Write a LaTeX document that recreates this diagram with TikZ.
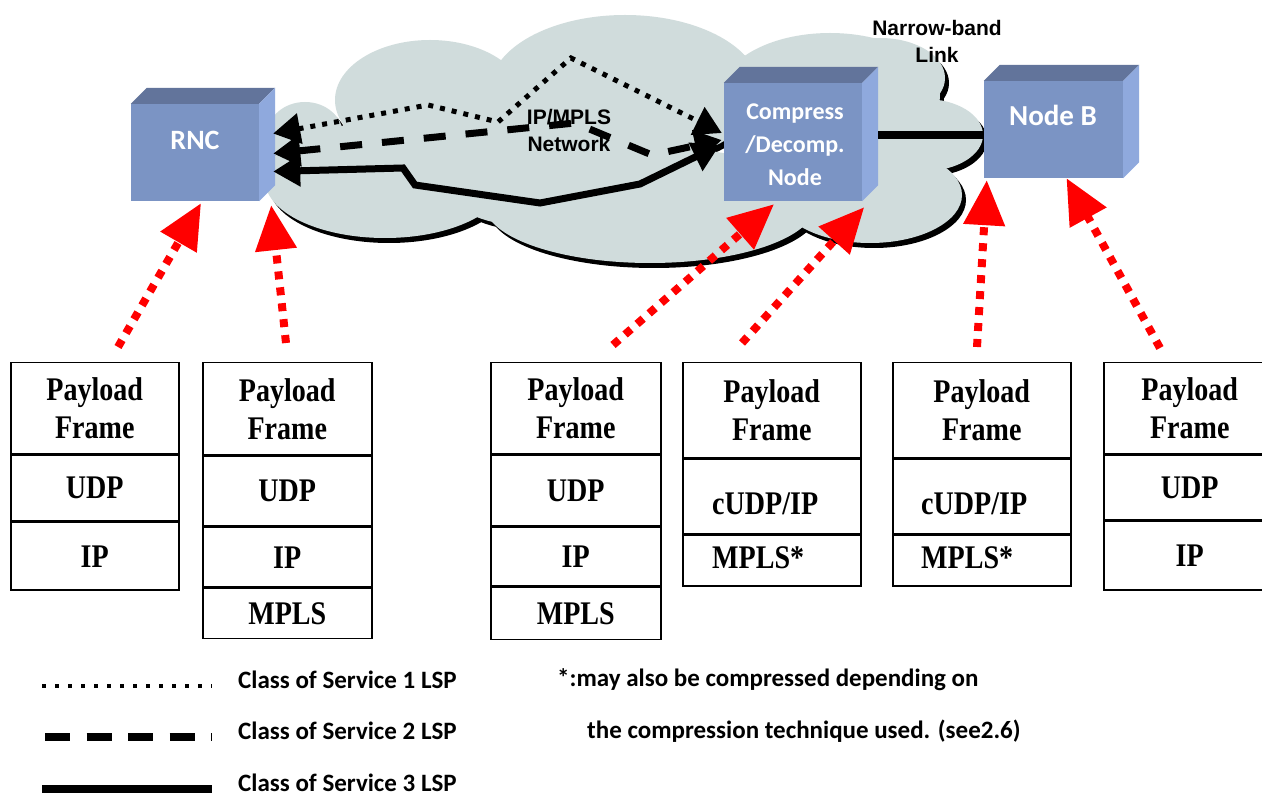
\documentclass[tikz,border=0pt]{standalone}
\usepackage{fontspec}
\usetikzlibrary{arrows.meta,calc}
\newfontfamily\serifb[FakeStretch=0.85]{Liberation Serif}
\newfontfamily\arialb{Liberation Sans}
\newfontfamily\comic{Carlito}
\definecolor{cloudc}{RGB}{208,220,220}
\definecolor{boxfront}{RGB}{123,148,196}
\definecolor{boxtop}{RGB}{98,116,155}
\definecolor{boxside}{RGB}{143,169,221}
\newcommand\cubefaces[1]{%
  \fill[boxtop] (#1.north west) -- ++(16,-16) -- ($(#1.north east)+(16,-16)$) -- (#1.north east) -- cycle;
  \fill[boxside] (#1.north east) -- ++(16,-16) -- ($(#1.south east)+(16,-16)$) -- (#1.south east) -- cycle;}
\begin{document}
\begin{tikzpicture}[x=1pt,y=-1pt,
  cube/.style={fill=boxfront, inner sep=0pt, text=white, font=\comic},
  cell/.style={draw, line width=1.5pt, minimum width=#1, inner sep=0pt, anchor=north west,
    font={\serifb\bfseries\fontsize{33}{38}\selectfont}, align=center},
  cell/.default=168pt,
  celltxt/.style={anchor=west, inner sep=0pt, font={\serifb\bfseries\fontsize{33}{38}\selectfont}},
  redarrow/.style={draw=red, line width=8pt, dash pattern=on 8pt off 8pt,
    -{Triangle[length=45pt,width=40pt]}},
  lsp/.style={line width=#1, {Triangle[length=27pt,width=30pt]}-{Triangle[length=27pt,width=30pt]}},
  cosone/.style={line width=5pt, dash pattern=on 5pt off 7pt},
  costwo/.style={line width=7pt, dash pattern=on 22pt off 20pt},
  costhree/.style={line width=7pt, miter limit=10},
  legtxt/.style={anchor=west, inner sep=0pt, font={\comic\bfseries\fontsize{25}{28}\selectfont}},
  boxtxt/.style={inner sep=0pt, text=white, align=center, font={\comic\bfseries\fontsize{#1}{33}\selectfont}},
  nettxt/.style={inner sep=0pt, align=center, font={\arialb\bfseries\fontsize{21}{27}\selectfont}}
]
\clip (0,0) rectangle (1262,799);
\fill[white] (0,0) rectangle (1262,799);

% cloud: shadow then body
\foreach \dx/\dy/\col in {4/5/black, 0/0/cloudc}{
  \begin{scope}[shift={(\dx,\dy)}]
  \fill[\col] (385,180) ellipse [x radius=120pt, y radius=58pt];
  \fill[\col] (305,135) ellipse [x radius=38pt, y radius=33pt];
  \fill[\col] (430,100) ellipse [x radius=95pt, y radius=60pt];
  \fill[\col] (625,90) ellipse [x radius=135pt, y radius=75pt];
  \fill[\col] (830,95) ellipse [x radius=110pt, y radius=62pt];
  \fill[\col] (880,78) ellipse [x radius=65pt, y radius=40pt];
  \fill[\col] (925,135) ellipse [x radius=58pt, y radius=36pt];
  \fill[\col] (650,205) ellipse [x radius=165pt, y radius=58pt];
  \fill[\col] (870,195) ellipse [x radius=92pt, y radius=48pt];
  \fill[\col] (520,160) ellipse [x radius=90pt, y radius=65pt];
  \end{scope}}

\node[nettxt] (net) at (569,130) {IP/MPLS\\Network};
\node[nettxt] (nb) at (937,41) {Narrow-band\\Link};

% boxes
\node[cube, minimum width=128pt, minimum height=97pt] (rnc) at (195,152.5) {};
\cubefaces{rnc}
\node[boxtxt=28] (rnct) at (195,140) {RNC};
\node[cube, minimum width=138pt, minimum height=118pt] (comp) at (793,142) {};
\cubefaces{comp}
\node[boxtxt=24] (compt) at (795,145) {Compress\\/Decomp.\\Node};
\node[cube, minimum width=139pt, minimum height=97pt] (nodeb) at (1053.5,129.5) {};
\cubefaces{nodeb}
\node[boxtxt=29] (nodebt) at (1053,115) {Node B};

% LSP paths
\draw[cosone, lsp=5pt] ($(rnc.east)+(14,-19)$) -- (428,105) -- (498,122) -- (571,58) -- ($(comp.west)+(-2,-9)$);
\draw[costwo, lsp=7pt] ($(rnc.east)+(14,1)$) -- (575,123) -- (652,155) -- ($(comp.west)+(-2,-2)$);
\draw[costhree, lsp=7pt] ($(rnc.east)+(14,19)$) -- (403,168) -- (415,185) -- (540,203) -- (640,184) -- ($(comp.west)+(-4,3)$);
\draw[line width=8pt] ($(comp.east)+(16,-7)$) -- ($(nodeb.west)+(0,5.5)$);

% stacks
\node[cell, minimum height=91pt] (s1a) at (10,362) {Payload\\Frame};
\node[cell, minimum height=66pt] (s1b) at (s1a.south west) {UDP};
\node[cell, minimum height=67pt] (s1c) at (s1b.south west) {IP};

\node[cell=169pt, minimum height=92pt] (s2a) at (202,362) {Payload\\Frame};
\node[cell=169pt, minimum height=70pt] (s2b) at (s2a.south west) {UDP};
\node[cell=169pt, minimum height=59pt] (s2c) at (s2b.south west) {IP};
\node[cell=169pt, minimum height=50pt] (s2d) at (s2c.south west) {MPLS};

\node[cell=170pt, minimum height=91pt] (s3a) at (490,362) {Payload\\Frame};
\node[cell=170pt, minimum height=71pt] (s3b) at (s3a.south west) {UDP};
\node[cell=170pt, minimum height=58pt] (s3c) at (s3b.south west) {IP};
\node[cell=170pt, minimum height=52pt] (s3d) at (s3c.south west) {MPLS};

\node[cell=178pt, minimum height=95pt] (s4a) at (682,362) {Payload\\Frame};
\node[cell=178pt, minimum height=75pt] (s4b) at (s4a.south west) {};
\node[cell=178pt, minimum height=50pt] (s4c) at (s4b.south west) {};
\node[celltxt] (s4bt) at (712,504) {cUDP/IP};
\node[celltxt] (s4ct) at (712,558) {MPLS*};

\node[cell=178pt, minimum height=95pt] (s5a) at (892,362) {Payload\\Frame};
\node[cell=178pt, minimum height=75pt] (s5b) at (s5a.south west) {};
\node[cell=178pt, minimum height=50pt] (s5c) at (s5b.south west) {};
\node[celltxt] (s5bt) at (921,504) {cUDP/IP};
\node[celltxt] (s5ct) at (921,558) {MPLS*};

\node[cell=172pt, minimum height=91pt] (s6a) at (1103,362) {Payload\\Frame};
\node[cell=172pt, minimum height=65pt] (s6b) at (s6a.south west) {UDP};
\node[cell=172pt, minimum height=68pt] (s6c) at (s6b.south west) {IP};

% red arrows
\coordinate (r1) at (118,347);
\coordinate (r2) at (286,343);
\coordinate (r3) at (613,345);
\coordinate (r4) at (742,343);
\coordinate (r5) at (977,347);
\coordinate (r6) at (1160,348);
\draw[redarrow] (r1) -- ($(rnc.south)+(6,2)$);
\draw[redarrow] (r2) -- ($(rnc.south east)+(12,4)$);
\draw[redarrow] (r3) -- ($(comp.south)+(-19,3)$);
\draw[redarrow] (r4) -- ($(comp.south east)+(2,6)$);
\draw[redarrow] (r5) -- ($(nodeb.south west)+(3,2)$);
\draw[redarrow] (r6) -- ($(nodeb.south)+(13,0)$);

% legend
\coordinate (l1a) at (42,686); \coordinate (l1b) at (212,686);
\coordinate (l2a) at (45,737); \coordinate (l2b) at (212,737);
\coordinate (l3a) at (42,789); \coordinate (l3b) at (212,789);
\draw[line width=4pt, dash pattern=on 4pt off 9pt] (l1a) -- (l1b);
\draw[line width=8pt, dash pattern=on 25pt off 16.5pt] (l2a) -- (l2b);
\draw[line width=8pt] (l3a) -- (l3b);
\node[legtxt] (t1) at (238,680) {Class of Service 1 LSP};
\node[legtxt] (t2) at (238,731) {Class of Service 2 LSP};
\node[legtxt] (t3) at (238,783) {Class of Service 3 LSP};
\node[legtxt] (t4) at (557,680) {*:may also be compressed depending on};
\node[legtxt] (t5) at (587,731) {the compression technique used. (see2.6)};
\end{tikzpicture}
\end{document}
